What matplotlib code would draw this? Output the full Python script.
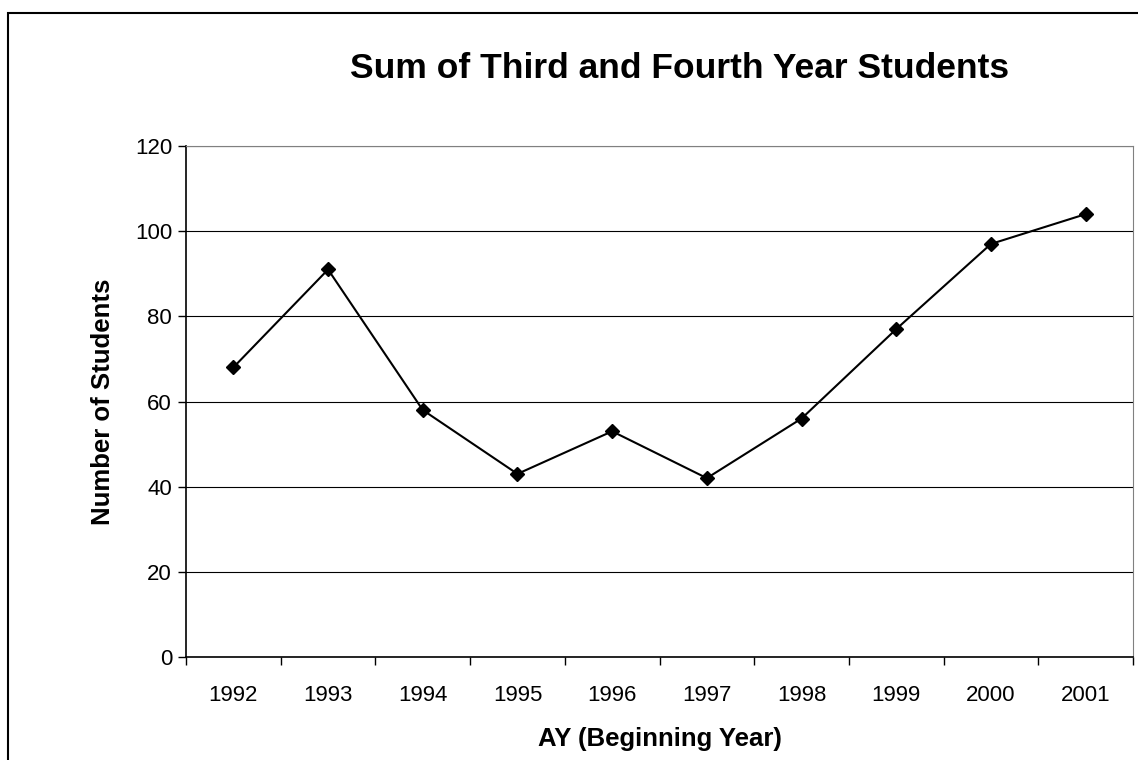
import matplotlib
matplotlib.use("Agg")
import matplotlib.pyplot as plt
from matplotlib.patches import Rectangle

plt.rcParams['font.family'] = ['Liberation Sans', 'DejaVu Sans']

# data
years = ['1992', '1993', '1994', '1995', '1996', '1997', '1998', '1999', '2000', '2001']
students = [68, 91, 58, 43, 53, 42, 56, 77, 97, 104]
y_ticks = [0, 20, 40, 60, 80, 100, 120]

fig = plt.figure(figsize=(11.38, 7.6), dpi=100)
ax = fig.add_axes([186 / 1138, 103 / 760, 947 / 1138, 511 / 760])

# outer chart border (Excel style)
fig.patches.append(Rectangle((8 / 1138, -0.05), 1.0, (760 - 13) / 760 + 0.05,
                             transform=fig.transFigure, fill=False,
                             edgecolor='black', linewidth=1.5))

x = list(range(len(years)))
ax.plot(x, students, color='black', linewidth=1.5, marker='D', markersize=7,
        markerfacecolor='black', markeredgecolor='black', zorder=5)

ax.set_xlim(-0.5, len(years) - 0.5)
ax.set_ylim(0, 120)
ax.set_yticks(y_ticks)
ax.set_xticks(x)
ax.set_xticklabels(years)
ax.set_xticks([i - 0.5 for i in range(len(years) + 1)], minor=True)
ax.tick_params(axis='x', which='major', length=0, pad=20, labelsize=16)
ax.tick_params(axis='x', which='minor', length=6, width=1, direction='out')
ax.tick_params(axis='y', length=6, width=1, direction='out', labelsize=16, pad=4)

ax.yaxis.grid(True, color='black', linewidth=0.8)
ax.set_axisbelow(True)

ax.spines['left'].set_color('black')
ax.spines['bottom'].set_color('black')
ax.spines['left'].set_linewidth(1.2)
ax.spines['bottom'].set_linewidth(1.2)
ax.spines['top'].set_color('#808080')
ax.spines['right'].set_color('#808080')

ax.set_xlabel('AY (Beginning Year)', fontsize=18.5, fontweight='bold', labelpad=15)
ax.set_ylabel('Number of Students', fontsize=18.5, fontweight='bold', labelpad=14)
fig.text(680 / 1138, 1 - 78 / 760, 'Sum of Third and Fourth Year Students',
         ha='center', va='baseline', fontsize=25.5, fontweight='bold')

plt.savefig('out.png', dpi=100)
